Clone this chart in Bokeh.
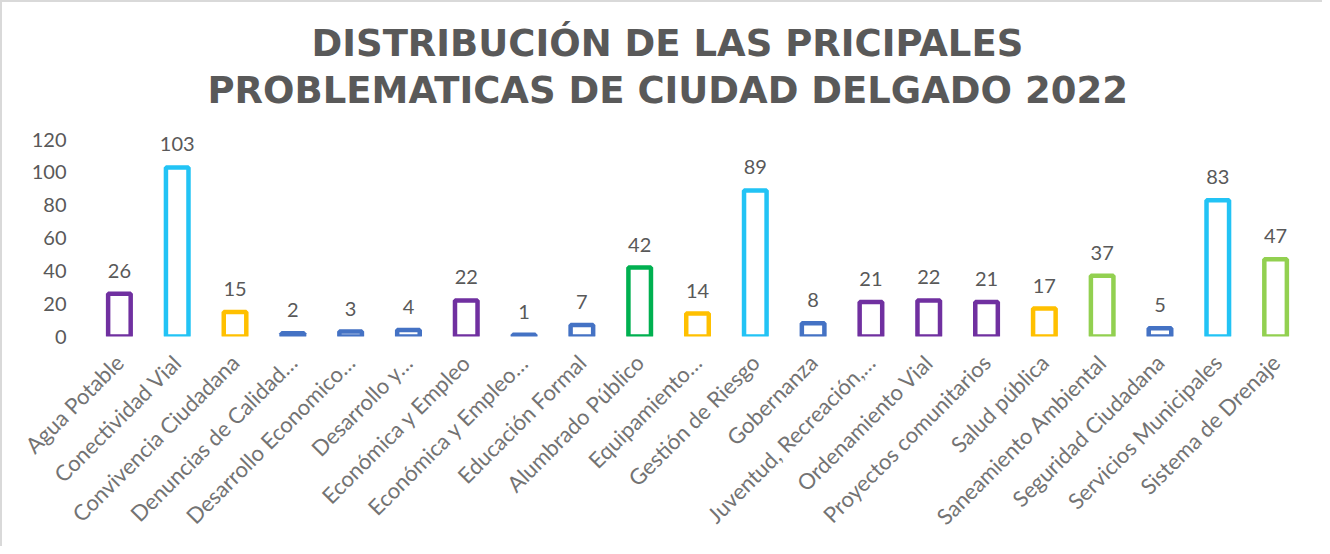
import math
from bokeh.plotting import figure
from bokeh.models import ColumnDataSource, FactorRange, Range1d, FixedTicker, LabelSet, Title
from bokeh.core.properties import value
from bokeh.embed import file_html
from bokeh.resources import INLINE

categories = [
    "Agua Potable", "Conectividad Vial", "Convivencia Ciudadana",
    "Denuncias de Calidad…", "Desarrollo Economico…", "Desarrollo y…",
    "Económica y Empleo", "Económica y Empleo…", "Educación Formal",
    "Alumbrado Público", "Equipamiento…", "Gestión de Riesgo", "Gobernanza",
    "Juventud, Recreación,…", "Ordenamiento Vial", "Proyectos comunitarios",
    "Salud pública", "Saneamiento Ambiental", "Seguridad Ciudadana",
    "Servicios Municipales", "Sistema de Drenaje",
]
values = [26, 103, 15, 2, 3, 4, 22, 1, 7, 42, 14, 89, 8, 21, 22, 21, 17, 37, 5, 83, 47]
colors = [
    "#7030A0", "#22C3F5", "#FFC000", "#4472C4", "#4472C4", "#4472C4",
    "#7030A0", "#4472C4", "#4472C4", "#00B050", "#FFC000", "#22C3F5",
    "#4472C4", "#7030A0", "#7030A0", "#7030A0", "#FFC000", "#92D050",
    "#4472C4", "#22C3F5", "#92D050",
]
y_ticks = [0, 20, 40, 60, 80, 100, 120]
title_lines = ["DISTRIBUCIÓN DE LAS PRICIPALES", "PROBLEMATICAS DE CIUDAD DELGADO 2022"]

src = ColumnDataSource(dict(cat=categories, val=values, color=colors,
                            label=[str(v) for v in values]))

FONT = "Lato"

p = figure(x_range=FactorRange(*categories, range_padding=0),
           y_range=Range1d(0, 131),
           width=1322, height=546, output_backend="svg", toolbar_location=None,
           min_border_left=88, min_border_right=20, min_border_top=119,
           min_border_bottom=212)
p.styles = {"border-left": "2px solid #d9d9d9", "border-top": "2px solid #d9d9d9",
            "box-sizing": "border-box"}
p.outline_line_color = None
p.xgrid.visible = False
p.ygrid.visible = False

p.vbar(x="cat", top="val", bottom=0, width=0.39, source=src,
       fill_color="white", line_color="color", line_width=4.5)

labels = LabelSet(x="cat", y="val", text="label", source=src, text_align="center",
                  text_baseline="alphabetic", y_offset=16, text_font_size="20px",
                  text_color="#595959", text_font=value(FONT))
p.add_layout(labels)

# spacer between frame and title, then title lines (later-added sit higher)
p.add_layout(Title(text=" ", text_font_size="4px", standoff=0), "above")
for line, off, so in zip(reversed(title_lines), [117, 221], [5, 0]):
    p.add_layout(Title(text=line, align="left", offset=off, standoff=so,
                       text_font_size="37px", text_font_style="bold",
                       text_color="#595959", text_font="DejaVu Sans"), "above")

p.yaxis.ticker = FixedTicker(ticks=y_ticks)
p.yaxis.axis_line_color = None
p.yaxis.major_tick_line_color = None
p.yaxis.minor_tick_line_color = None
p.yaxis.major_tick_out = 0
p.yaxis.major_label_standoff = 24
p.yaxis.major_label_text_font_size = "20px"
p.yaxis.major_label_text_color = "#595959"
p.yaxis.major_label_text_font = FONT

p.xaxis.axis_line_color = None
p.xaxis.major_tick_line_color = None
p.xaxis.major_tick_out = 0
p.xaxis.major_label_orientation = math.pi / 4
p.xaxis.major_label_standoff = 22
p.xaxis.major_label_text_font_size = "22px"
p.xaxis.major_label_text_color = "#737373"
p.xaxis.major_label_text_font = FONT

open("out.html", "w").write(file_html(p, INLINE))
